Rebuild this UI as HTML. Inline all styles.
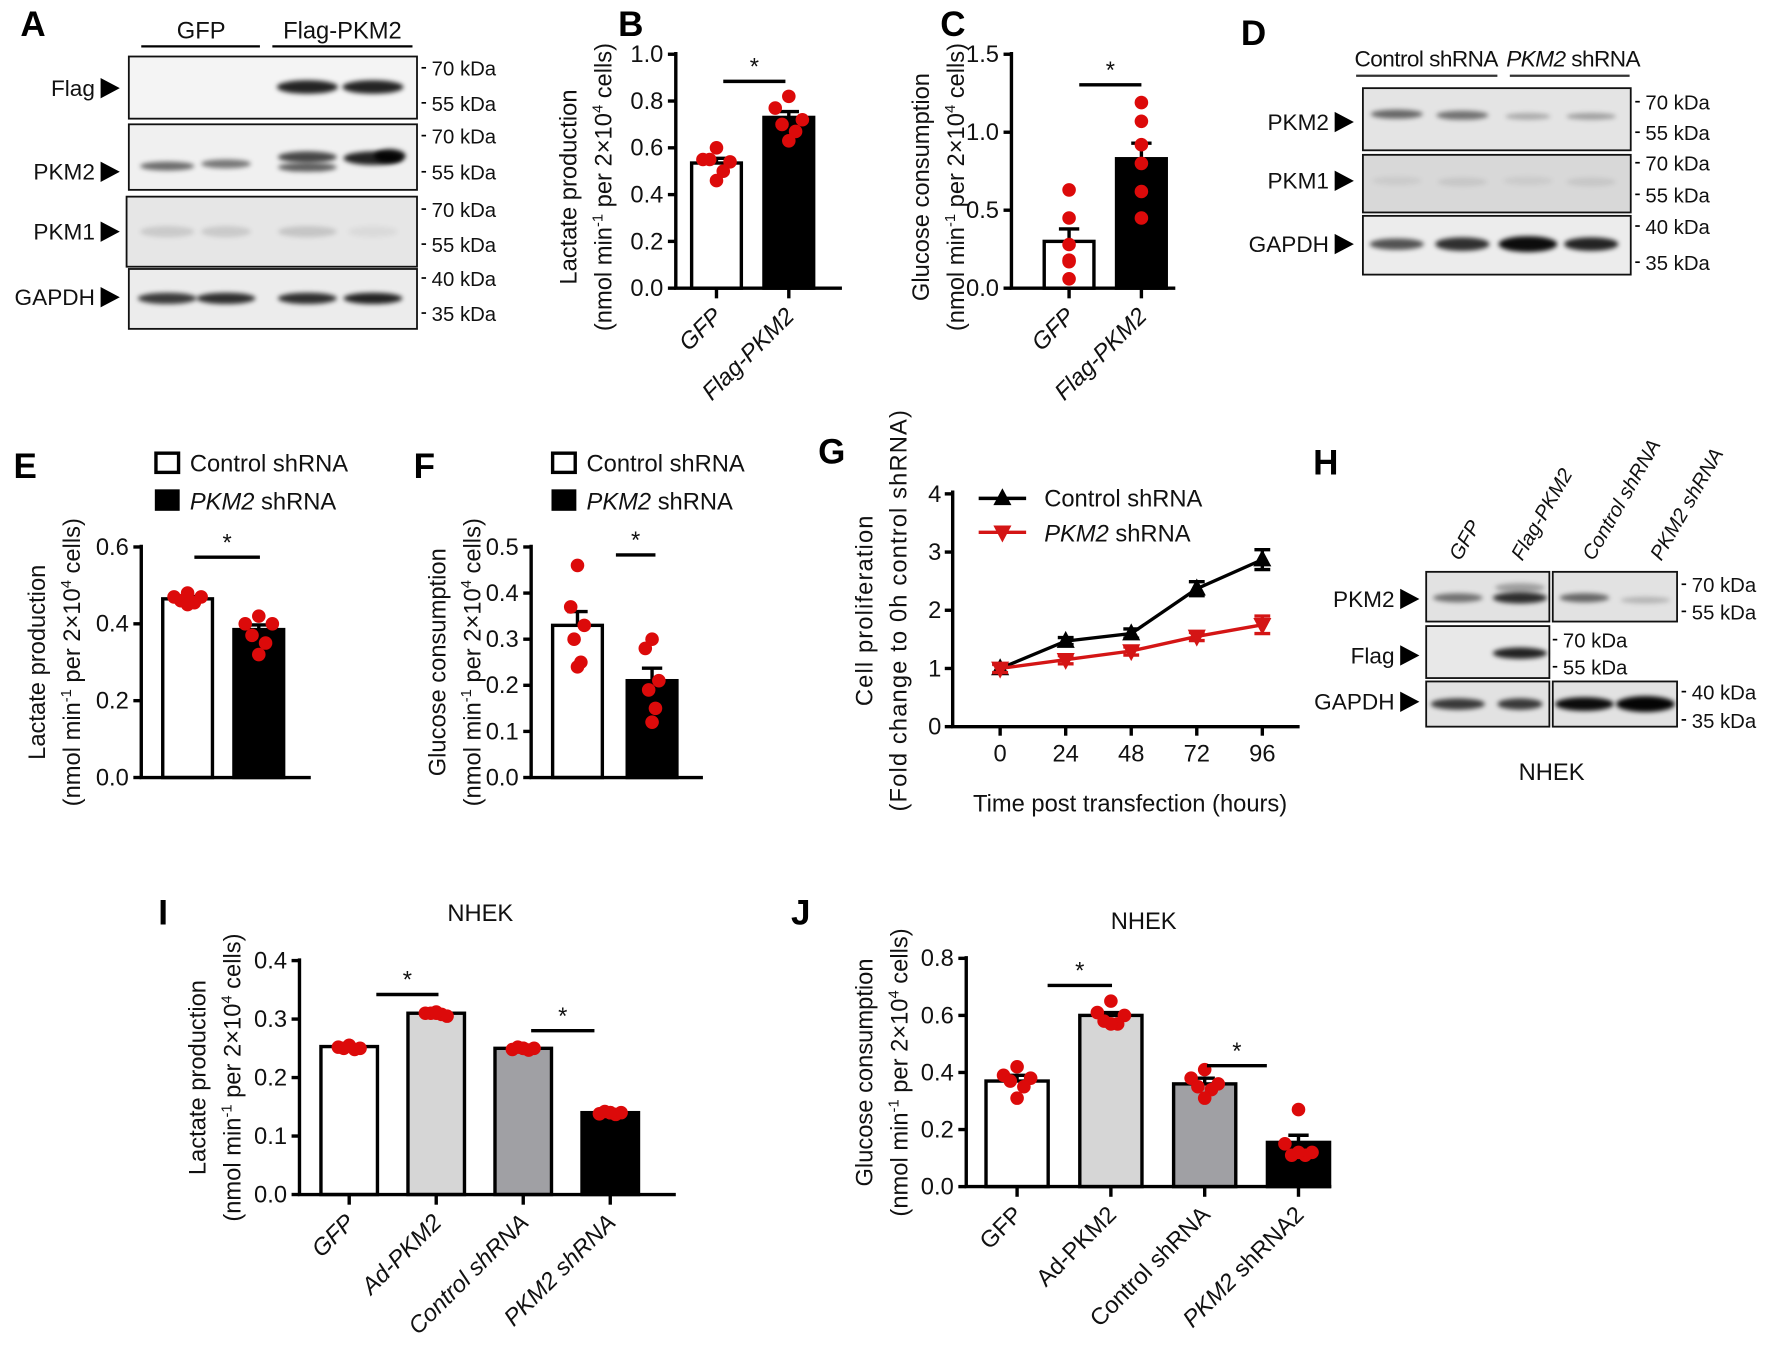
<!DOCTYPE html>
<html><head><meta charset="utf-8"><title>PKM2 figure</title>
<style>
html,body{margin:0;padding:0;background:#fff;}
svg{display:block;font-family:"Liberation Sans",Arial,sans-serif;}
.t{font-size:21px;fill:#111;}
.lt{font-size:31px;font-weight:bold;fill:#000;}
.kd{font-size:18px;fill:#111;}
.bl{font-size:20px;fill:#111;}
</style></head>
<body>
<svg id="fig" width="1772" height="1355" viewBox="0 0 1568 1199" preserveAspectRatio="none" xmlns="http://www.w3.org/2000/svg">
<defs>
<filter id="blur" x="-20%" y="-100%" width="140%" height="300%"><feGaussianBlur stdDeviation="2.2"/></filter>
</defs>
<text class="lt" x="18" y="32">A</text>
<text class="lt" x="547" y="32">B</text>
<text class="lt" x="832" y="32">C</text>
<text class="lt" x="1098" y="40">D</text>
<text class="lt" x="12" y="423">E</text>
<text class="lt" x="366" y="423">F</text>
<text class="lt" x="724" y="410">G</text>
<text class="lt" x="1162" y="420">H</text>
<text class="lt" x="140" y="818">I</text>
<text class="lt" x="700" y="818">J</text>
<g id="blots"></g>
<g id="charts"></g>
</svg>
<script>
const NS='http://www.w3.org/2000/svg';
const svg=document.getElementById('fig');
const blotsG=document.getElementById('blots');
const chartsG=document.getElementById('charts');
function mk(tag,attrs,parent){const e=document.createElementNS(NS,tag);for(const k in attrs)e.setAttribute(k,attrs[k]);(parent||svg).appendChild(e);return e;}
function txt(x,y,s,cls,parent,extra){const e=mk('text',Object.assign({x:x,y:y,class:cls||'t'},extra||{}),parent);e.innerHTML=s;return e;}

/* ===== Chart data ===== */
const bCats=['GFP','Flag-PKM2'];
const bMeans=[0.535,0.73];
const bErr=[0.02,0.025];
const bDots=[[0.6,0.55,0.54,0.55,0.5,0.46],[0.82,0.77,0.72,0.7,0.67,0.63]];
const bTicks=[0,0.2,0.4,0.6,0.8,1.0];

const cCats=['GFP','Flag-PKM2'];
const cMeans=[0.3,0.83];
const cErr=[0.08,0.1];
const cDots=[[0.63,0.45,0.28,0.18,0.17,0.06],[1.19,1.07,0.92,0.8,0.62,0.45]];
const cTicks=[0,0.5,1.0,1.5];

const eCats=['Control shRNA','PKM2 shRNA'];
const eMeans=[0.465,0.385];
const eErr=[0.006,0.012];
const eDots=[[0.48,0.47,0.47,0.46,0.455,0.45],[0.42,0.4,0.4,0.37,0.35,0.32]];
const eTicks=[0,0.2,0.4,0.6];

const fCats=['Control shRNA','PKM2 shRNA'];
const fMeans=[0.33,0.21];
const fErr=[0.03,0.027];
const fDots=[[0.46,0.37,0.33,0.3,0.25,0.24],[0.3,0.28,0.21,0.19,0.15,0.12]];
const fTicks=[0,0.1,0.2,0.3,0.4,0.5];

const gHours=[0,24,48,72,96];
const gControl=[1.0,1.47,1.6,2.37,2.87];
const gControlErr=[0.08,0.06,0.08,0.12,0.17];
const gPkm2=[1.0,1.15,1.3,1.55,1.75];
const gPkm2Err=[0.07,0.07,0.07,0.07,0.15];
const gYTicks=[0,1,2,3,4];

const iCats=['GFP','Ad-PKM2','Control shRNA','PKM2 shRNA'];
const iMeans=[0.253,0.31,0.25,0.14];
const iErr=[0.002,0.002,0.002,0.002];
const iDots=[[0.255,0.252,0.25,0.25,0.248,0.255],[0.31,0.31,0.305,0.31,0.308,0.312],[0.25,0.248,0.25,0.252,0.247,0.25],[0.14,0.138,0.14,0.142,0.137,0.14]];
const iTicks=[0,0.1,0.2,0.3,0.4];

const jCats=['GFP','Ad-PKM2','Control shRNA','PKM2 shRNA2'];
const jMeans=[0.37,0.6,0.36,0.155];
const jErr=[0.02,0.01,0.02,0.025];
const jDots=[[0.42,0.39,0.38,0.37,0.35,0.31],[0.65,0.61,0.6,0.58,0.57,0.57],[0.41,0.38,0.36,0.35,0.34,0.31],[0.27,0.15,0.12,0.11,0.11,0.12]];
const jTicks=[0,0.2,0.4,0.6,0.8];

const RED='#dc0a0a';
const jitter=[0,-12,12,-6,6,0];

function barChart(o){
  const g=mk('g',{},chartsG);
  
  
  const max=o.ticks[o.ticks.length-1];
  const y=v=>o.yBot-v/max*(o.yBot-o.yTop);
  const x=i=>o.firstC+i*o.step;
  o.means.forEach((m,i)=>{
    const r=mk('rect',{x:x(i)-o.barW/2,y:y(m),width:o.barW,height:o.yBot-y(m),fill:o.fills[i],stroke:'#000','stroke-width':3},g);
    
    
    const top=y(m+o.errs[i]);
    const eb=mk('path',{d:`M${x(i)},${y(m)}V${top}M${x(i)-9},${top}H${x(i)+9}`,stroke:'#000','stroke-width':3,fill:'none'},g);
    
    
    o.dots[i].forEach((d,k)=>{
      const c=mk('circle',{cx:x(i)+jitter[k%jitter.length]*o.jit,cy:y(d),r:6,fill:RED},g);
      
      
    });
  });
  const ax=mk('path',{d:`M${o.axisX},${o.yTop-2}V${o.yBot}H${o.xEnd}`,stroke:'#000','stroke-width':3,fill:'none'},g);
  
  
  o.ticks.forEach(t=>{
    mk('line',{x1:o.axisX-7,x2:o.axisX,y1:y(t),y2:y(t),stroke:'#000','stroke-width':3},g);
    const tl=txt(o.axisX-11,y(t)+7,o.tickFmt?o.tickFmt(t):t.toFixed(1),'t',g,{'text-anchor':'end'});
    
    
  });
  o.cats.forEach((c,i)=>{
    if(o.xTicks) mk('line',{x1:x(i),x2:x(i),y1:o.yBot,y2:o.yBot+9,stroke:'#000','stroke-width':3},g);
    if(o.showLabels){
      let s=c;
      if(o.italic) s=`<tspan font-style="italic">${c}</tspan>`;
      else s=c.replace('PKM2 shRNA','<tspan font-style="italic">PKM2</tspan> shRNA');
      const l=txt(x(i)+6,o.yBot+26,s,'t',g,{'text-anchor':'end',transform:`rotate(-45 ${x(i)+6} ${o.yBot+26})`});
      
      
    }
  });
  (o.sig||[]).forEach(s=>{
    const yy=s[2];
    mk('line',{x1:x(s[0])+s[3],x2:x(s[1])-s[4],y1:yy,y2:yy,stroke:'#000','stroke-width':3},g);
    const st=txt((x(s[0])+s[3]+x(s[1])-s[4])/2,yy-6,'*','t',g,{'text-anchor':'middle','font-size':'23'});
    
    
  });
  const mid=(o.yTop+o.yBot)/2+o.titleDy;
  const t1=txt(o.titleX,mid,o.title1,'t',g,{'text-anchor':'middle',transform:`rotate(-90 ${o.titleX} ${mid})`});
  
  
  const t2=txt(o.titleX+31,mid,'(nmol min<tspan font-size="13" dy="-8">-1</tspan><tspan dy="8"> per 2×10</tspan><tspan font-size="13" dy="-8">4</tspan><tspan dy="8"> cells)</tspan>','t',g,{'text-anchor':'middle',transform:`rotate(-90 ${o.titleX+31} ${mid})`});
  
  
  return g;
}

barChart({name:'chart-b-lactate',cats:bCats,means:bMeans,errs:bErr,dots:bDots,ticks:bTicks,axisX:598,yTop:48,yBot:255,firstC:634,step:64,barW:44,xEnd:745,fills:['#fff','#000'],jit:1,xTicks:true,showLabels:true,italic:true,sig:[[0,1,72,6,3]],title1:'Lactate production',titleX:510,titleDy:14});
barChart({name:'chart-c-glucose',cats:cCats,means:cMeans,errs:cErr,dots:cDots,ticks:cTicks,axisX:895,yTop:48,yBot:255,firstC:946,step:64,barW:44,xEnd:1040,fills:['#fff','#000'],jit:0,xTicks:true,showLabels:true,italic:true,sig:[[0,1,75,9,0]],title1:'Glucose consumption',titleX:822,titleDy:14});
barChart({name:'chart-e-lactate',cats:eCats,means:eMeans,errs:eErr,dots:eDots,ticks:eTicks,axisX:125,yTop:484,yBot:688,firstC:166,step:63,barW:44,xEnd:275,fills:['#fff','#000'],jit:1,xTicks:false,showLabels:false,sig:[[0,1,493,6,-1]],title1:'Lactate production',titleX:40,titleDy:0});
barChart({name:'chart-f-glucose',cats:fCats,means:fMeans,errs:fErr,dots:fDots,ticks:fTicks,axisX:470,yTop:484,yBot:688,firstC:511,step:66,barW:44,xEnd:622,fills:['#fff','#000'],jit:0.5,xTicks:false,showLabels:false,sig:[[0,1,491,34,-3]],title1:'Glucose consumption',titleX:394,titleDy:0});
barChart({name:'chart-i-lactate',cats:iCats,means:iMeans,errs:iErr,dots:iDots,ticks:iTicks,axisX:265,yTop:850,yBot:1057,firstC:309,step:77,barW:50,xEnd:598,fills:['#fff','#d6d6d6','#a0a0a4','#000'],jit:0.8,xTicks:true,showLabels:true,italic:true,sig:[[0,1,880,24,-2],[2,3,912,7,14]],title1:'Lactate production',titleX:182,titleDy:0});
barChart({name:'chart-j-glucose',cats:jCats,means:jMeans,errs:jErr,dots:jDots,ticks:jTicks,axisX:855,yTop:848,yBot:1050,firstC:900,step:83,barW:55,xEnd:1178,fills:['#fff','#d6d6d6','#a0a0a4','#000'],jit:1,xTicks:true,showLabels:true,italic:false,sig:[[0,1,872,27,-1],[2,3,943,2,28]],title1:'Glucose consumption',titleX:772,titleDy:0});

let n1=txt(425,815,'NHEK','t',chartsG,{'text-anchor':'middle','font-size':'22'});


let n2=txt(1012,822,'NHEK','t',chartsG,{'text-anchor':'middle','font-size':'22'});



function legend(x,y,name){
  const g=mk('g',{},chartsG);
  
  
  mk('rect',{x:x,y:y,width:20,height:17,fill:'#fff',stroke:'#000','stroke-width':3},g);
  txt(x+30,y+16,'Control shRNA','t',g);
  mk('rect',{x:x-1,y:y+32,width:22,height:19,fill:'#000'},g);
  txt(x+30,y+50,'<tspan font-style="italic">PKM2</tspan> shRNA','t',g);
}
legend(138,401,'legend-e');
legend(489,401,'legend-f');

(function(){
  const g=mk('g',{},chartsG);
  
  
  const axX=843,yTop=437,yBot=643,x0=885,x1=1117,xEnd=1150;
  const y=v=>yBot-v/4*(yBot-yTop);
  const x=h=>x0+h/96*(x1-x0);
  function series(vals,errs,color,up,name){
    const sg=mk('g',{},g);
    
    
    mk('polyline',{points:vals.map((v,i)=>x(gHours[i])+','+y(v)).join(' '),fill:'none',stroke:color,'stroke-width':3},sg);
    vals.forEach((v,i)=>{
      const cx=x(gHours[i]),cy=y(v),t=y(v+errs[i]),b=y(v-errs[i]);
      mk('path',{d:`M${cx},${b}V${t}M${cx-7},${t}H${cx+7}M${cx-7},${b}H${cx+7}`,stroke:color,'stroke-width':3,fill:'none'},sg);
      const p=up?`M${cx},${cy-9}L${cx+8},${cy+6}L${cx-8},${cy+6}Z`:`M${cx},${cy+9}L${cx+8},${cy-6}L${cx-8},${cy-6}Z`;
      const m=mk('path',{d:p,fill:color},sg);
      
      
    });
  }
  series(gControl,gControlErr,'#000',true,'series-control-shrna');
  series(gPkm2,gPkm2Err,'#d41515',false,'series-pkm2-shrna');
  const ax=mk('path',{d:`M${axX},${yTop-3}V${yBot}H${xEnd}`,stroke:'#000','stroke-width':3,fill:'none'},g);
  
  
  gYTicks.forEach(t=>{
    mk('line',{x1:axX-7,x2:axX,y1:y(t),y2:y(t),stroke:'#000','stroke-width':3},g);
    const l=txt(axX-10,y(t)+7,String(t),'t',g,{'text-anchor':'end'});
    
    
  });
  gHours.forEach(h=>{
    mk('line',{x1:x(h),x2:x(h),y1:yBot,y2:yBot+8,stroke:'#000','stroke-width':3},g);
    const l=txt(x(h),yBot+31,String(h),'t',g,{'text-anchor':'middle'});
    
    
  });
  const xt=txt(1000,718,'Time post transfection (hours)','t',g,{'text-anchor':'middle'});
  
  
  const mid=540;
  const t1=txt(772,mid,'Cell proliferation','t',g,{'text-anchor':'middle',transform:`rotate(-90 772 ${mid})`,'letter-spacing':'1'});
  
  
  const t2=txt(802,mid,'(Fold change to 0h control shRNA)','t',g,{'text-anchor':'middle',transform:`rotate(-90 802 ${mid})`,'letter-spacing':'1'});
  
  
  const lg=mk('g',{},g);
  
  
  mk('line',{x1:866,x2:908,y1:441,y2:441,stroke:'#000','stroke-width':3},lg);
  mk('path',{d:'M887,432L895,447L879,447Z',fill:'#000'},lg);
  txt(924,448,'Control shRNA','t',lg);
  mk('line',{x1:866,x2:908,y1:471,y2:471,stroke:'#d41515','stroke-width':3},lg);
  mk('path',{d:'M887,480L895,465L879,465Z',fill:'#d41515'},lg);
  txt(924,479,'<tspan font-style="italic">PKM2</tspan> shRNA','t',lg);
})();

function blot(x,y,w,h,bands,name,bg){
  const g=mk('g',{},blotsG);
  
  
  mk('rect',{x:x,y:y,width:w,height:h,fill:bg||'#ececec',stroke:'#111','stroke-width':1.6},g);
  bands.forEach(b=>{
    mk('ellipse',{cx:b[0],cy:b[1],rx:b[2],ry:b[3],fill:'#000','fill-opacity':b[4],filter:'url(#blur)'},g);
  });
  return g;
}
function rowLabel(xr,y,s,name,fs){
  const t=txt(xr-22,y+7,s,'bl',blotsG,{'text-anchor':'end','font-size':fs||20});
  
  
  mk('path',{d:`M${xr-17},${y-9}L${xr},${y}L${xr-17},${y+9}Z`,fill:'#000'},blotsG);
}
function kda(x,y,s){
  mk('line',{x1:x,x2:x+4,y1:y,y2:y,stroke:'#000','stroke-width':1.5},blotsG);
  const t=txt(x+9,y+7,s,'kd',blotsG);
  
  
}
txt(178,34,'GFP','t',blotsG,{'text-anchor':'middle'});
txt(303,34,'Flag-PKM2','t',blotsG,{'text-anchor':'middle'});
mk('line',{x1:125,x2:230,y1:41,y2:41,stroke:'#000','stroke-width':2},blotsG);
mk('line',{x1:241,x2:365,y1:41,y2:41,stroke:'#000','stroke-width':2},blotsG);
blot(114,50,255,55,[[272,77,27,6,0.85],[330,77,27,6,0.85]],'blot-a-flag','#f4f4f4');
blot(114,110,255,58,[[148,147,24,4,0.55],[200,145,22,4,0.5],[272,139,26,5,0.7],[272,148,26,4,0.6],[330,140,26,6,0.85],[345,138,14,6,0.9]],'blot-a-pkm2','#f0f0f0');
blot(112,174,257,62,[[148,205,24,5,0.12],[200,205,22,5,0.12],[272,205,26,5,0.14],[330,205,22,5,0.05]],'blot-a-pkm1','#e6e6e6');
blot(114,238,255,53,[[148,264,26,5,0.75],[200,264,26,5,0.8],[272,264,26,5,0.8],[330,264,26,5,0.85]],'blot-a-gapdh','#ececec');
rowLabel(106,78,'Flag','label-flag');
rowLabel(106,152,'PKM2','label-pkm2');
rowLabel(106,205,'PKM1','label-pkm1');
rowLabel(106,263,'GAPDH','label-gapdh');
[[60,'70 kDa'],[91,'55 kDa'],[120,'70 kDa'],[152,'55 kDa'],[185,'70 kDa'],[216,'55 kDa'],[246,'40 kDa'],[277,'35 kDa']].forEach(k=>kda(373,k[0],k[1]));
txt(1262,59,'Control shRNA','bl',blotsG,{'text-anchor':'middle','font-size':17,'letter-spacing':'-0.5'});
txt(1392,59,'<tspan font-style="italic">PKM2</tspan> shRNA','bl',blotsG,{'text-anchor':'middle','font-size':17,'letter-spacing':'-0.5'});
mk('line',{x1:1200,x2:1325,y1:67,y2:67,stroke:'#333','stroke-width':2},blotsG);
mk('line',{x1:1336,x2:1442,y1:67,y2:67,stroke:'#333','stroke-width':2},blotsG);
blot(1206,78,237,55,[[1236,101,23,4,0.55],[1294,102,23,4,0.5],[1352,103,20,3,0.25],[1408,103,22,3,0.3]],'blot-d-pkm2','#e4e4e4');
blot(1206,137,237,51,[[1236,160,22,4,0.06],[1294,161,22,4,0.08],[1352,160,22,4,0.06],[1408,161,22,4,0.08]],'blot-d-pkm1','#d8d8d8');
blot(1206,191,237,52,[[1236,216,24,5,0.65],[1294,216,24,6,0.8],[1352,216,26,7,0.95],[1408,216,24,6,0.85]],'blot-d-gapdh','#ececec');
rowLabel(1198,108,'PKM2','label-d-pkm2',21);
rowLabel(1198,160,'PKM1','label-d-pkm1',21);
rowLabel(1198,216,'GAPDH','label-d-gapdh',21);
[[90,'70 kDa'],[117,'55 kDa'],[144,'70 kDa'],[172,'55 kDa'],[200,'40 kDa'],[232,'35 kDa']].forEach(k=>kda(1447,k[0],k[1]));
[['GFP',1292,'label-h-gfp'],['Flag-PKM2',1347,'label-h-flag-pkm2'],['Control shRNA',1410,'label-h-control'],['PKM2 shRNA',1470,'label-h-pkm2']].forEach(c=>{
  const t=txt(c[1],497,c[0],'kd',blotsG,{'font-style':'italic',transform:`rotate(-60 ${c[1]} 497)`});
  
  
});
blot(1262,506,109,44,[[1290,529,22,4,0.5],[1345,529,24,5,0.8],[1345,520,22,4,0.3]],'blot-h-pkm2-left','#e2e2e2');
blot(1374,506,110,44,[[1402,529,22,4,0.55],[1456,531,22,3,0.2]],'blot-h-pkm2-right','#e2e2e2');
blot(1262,554,109,46,[[1345,578,24,5,0.85]],'blot-h-flag','#e8e8e8');
blot(1262,603,109,40,[[1290,623,24,5,0.75],[1345,623,20,5,0.75]],'blot-h-gapdh-left','#e2e2e2');
blot(1374,603,110,40,[[1402,623,26,6,0.95],[1456,623,26,7,0.98]],'blot-h-gapdh-right','#e2e2e2');
rowLabel(1256,530,'PKM2','label-h-pkm2-row',18);
rowLabel(1256,580,'Flag','label-h-flag-row',18);
rowLabel(1256,621,'GAPDH','label-h-gapdh-row',18);
[[517,'70 kDa'],[541,'55 kDa'],[612,'40 kDa'],[637,'35 kDa']].forEach(k=>kda(1488,k[0],k[1]));
[[566,'70 kDa'],[590,'55 kDa']].forEach(k=>kda(1374,k[0],k[1]));
const nh=txt(1373,690,'NHEK','t',blotsG,{'text-anchor':'middle','font-size':22});


</script>
</body></html>
